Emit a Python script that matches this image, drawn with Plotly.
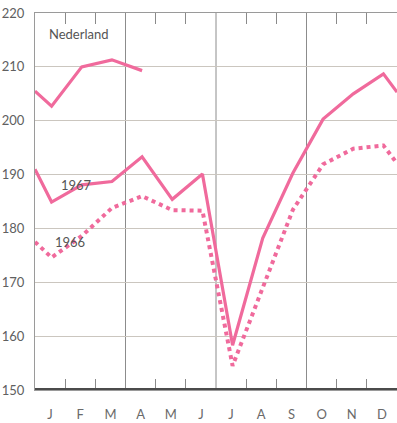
import plotly.graph_objects as go

months = ["J", "F", "M", "A", "M", "J", "J", "A", "S", "O", "N", "D"]
y_ticks = [150, 160, 170, 180, 190, 200, 210, 220]

# values (index)
# each series: value at start of year (carried from previous December), monthly values, value at end of year
s1968_start = 205.5
s1968 = [202.7, 210.0, 211.3, 209.3]

s1967_start = 191.0
s1967 = [184.9, 188.1, 188.7, 193.3, 185.4, 190.1, 158.3, 178.2, 190.3, 200.3, 205.0, 208.7]
s1967_end = 205.3

s1966_start = 177.5
s1966 = [174.6, 178.6, 183.8, 186.0, 183.4, 183.3, 154.5, 169.0, 183.5, 191.9, 194.8, 195.4]
s1966_end = 192.1

PINK = "#f06a9c"
OFF = 0.55  # position of a month's point inside its month interval
FAM = "Lato, 'DejaVu Sans', sans-serif"
GREY_TXT = "#606060"
MINOR_X = [1, 2, 4, 5, 7, 8, 10, 11]


def xs(n, start=True, end=False):
    out = [0.0] if start else []
    out += [i + OFF for i in range(n)]
    if end:
        out.append(12.0)
    return out


fig = go.Figure()
fig.add_trace(go.Scatter(x=xs(len(s1966), end=True), y=[s1966_start] + s1966 + [s1966_end],
                         mode="lines", line=dict(color=PINK, width=4, dash="4px,4px"),
                         hoverinfo="skip", showlegend=False))
fig.add_trace(go.Scatter(x=xs(len(s1967), end=True), y=[s1967_start] + s1967 + [s1967_end],
                         mode="lines", line=dict(color=PINK, width=3.2),
                         hoverinfo="skip", showlegend=False))
fig.add_trace(go.Scatter(x=xs(len(s1968)), y=[s1968_start] + s1968,
                         mode="lines", line=dict(color=PINK, width=3.2),
                         hoverinfo="skip", showlegend=False))
# carriers for the overlay axes
for ax in ("x2", "x3"):
    fig.add_trace(go.Scatter(x=[0, 12], y=[None, None], xaxis=ax, mode="lines",
                             hoverinfo="skip", showlegend=False))

tick_axis = dict(range=[0, 12], showgrid=False, zeroline=False, showticklabels=False,
                 tickmode="array", tickvals=MINOR_X, ticks="inside", ticklen=11,
                 tickcolor="#8a8a8a", tickwidth=1,
                 showline=True, linecolor="#9a9a9a", linewidth=1, fixedrange=True)

fig.update_layout(
    width=397, height=423,
    margin=dict(l=35, r=0, t=13, b=33),
    paper_bgcolor="white", plot_bgcolor="white",
    font=dict(family=FAM, size=13, color=GREY_TXT),
    xaxis=dict(**tick_axis),
    xaxis2=dict(**tick_axis, overlaying="x", side="top"),
    xaxis3=dict(
        range=[0, 12], overlaying="x", side="bottom", showgrid=False, zeroline=False,
        tickmode="array", tickvals=[i + 0.5 for i in range(12)], ticktext=months,
        ticks="outside", ticklen=12, tickcolor="rgba(0,0,0,0)", showline=False,
        tickfont=dict(family=FAM, size=13, color="#6a6a6a"), fixedrange=True,
    ),
    yaxis=dict(
        range=[150, 220], tickvals=y_ticks, showgrid=True, gridcolor="#cbc6bf", gridwidth=1,
        zeroline=False, showline=True, linecolor="#9a9a9a", linewidth=1,
        ticks="outside", ticklen=7, tickcolor="rgba(0,0,0,0)",
        tickfont=dict(family=FAM, size=13, color=GREY_TXT),
        fixedrange=True,
    ),
    shapes=[
        *[dict(type="line", xref="x", yref="paper", x0=v, x1=v, y0=0, y1=1,
               line=dict(color="#8c8c8c", width=1), layer="below") for v in (3, 6, 9)],
        dict(type="line", xref="paper", yref="y", x0=0, x1=1, y0=150, y1=150,
             line=dict(color="#4b4b4b", width=4)),
    ],
    annotations=[
        dict(text="Nederland", x=1.46, y=216.1, xref="x", yref="y",
             showarrow=False, font=dict(family=FAM, size=13, color="#555")),
        dict(text="1967", x=1.39, y=188.0, xref="x", yref="y", showarrow=False,
             font=dict(family=FAM, size=13, color="#555")),
        dict(text="1966", x=1.16, y=177.4, xref="x", yref="y", showarrow=False,
             font=dict(family=FAM, size=13, color="#555")),
    ],
)

fig.write_html("out.html", config={"displayModeBar": False},
               post_script="document.body.style.margin='0';document.body.style.overflow='hidden';")
